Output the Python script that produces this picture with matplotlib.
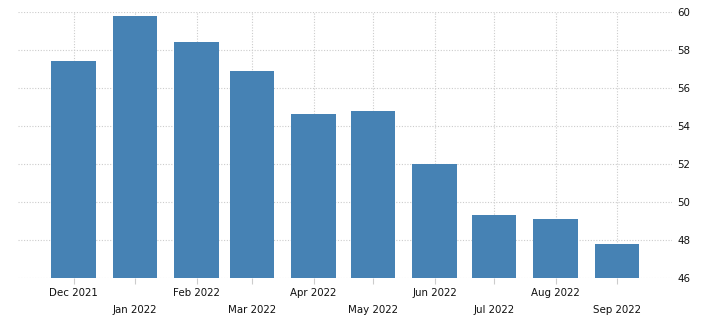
import matplotlib
matplotlib.use("Agg")
import matplotlib.pyplot as plt
import matplotlib.dates as mdates
import numpy as np
import datetime as dt

months = ["2021-12", "2022-01", "2022-02", "2022-03", "2022-04",
          "2022-05", "2022-06", "2022-07", "2022-08", "2022-09"]
labels = ["Dec 2021", "Jan 2022", "Feb 2022", "Mar 2022", "Apr 2022",
          "May 2022", "Jun 2022", "Jul 2022", "Aug 2022", "Sep 2022"]
values = [57.4, 59.8, 58.4, 56.9, 54.6, 54.8, 52.0, 49.3, 49.1, 47.8]
yticks = [46, 48, 50, 52, 54, 56, 58, 60]

dates = [dt.datetime.strptime(m + "-01", "%Y-%m-%d") for m in months]
x = mdates.date2num(dates)

fig = plt.figure(figsize=(7.07, 3.27), dpi=100)
ax = fig.add_axes([0.0255, 0.150, 0.9245, 0.814])

ax.bar(x, values, width=22.5, color="#4682B4", zorder=2)

ax.set_ylim(46, 60)
ax.set_xlim(x[0] - 28, x[-1] + 27.5)
ax.set_yticks(yticks)
ax.yaxis.tick_right()
ax.tick_params(axis="y", length=0, pad=4, labelsize=7.4, colors="#111111")
ax.set_xticks(x)
ax.set_xticklabels(labels)
ax.tick_params(axis="x", length=4, color="#cccccc", labelsize=7.4, labelcolor="#111111")
for i, t in enumerate(ax.xaxis.get_major_ticks()):
    t.set_pad(3.2 if i % 2 == 0 else 15.6)

ax.grid(True, color="#cccccc", linestyle=(0, (1, 1.5)), linewidth=0.8, zorder=0)
ax.set_axisbelow(True)
for s in ax.spines.values():
    s.set_visible(False)

fig.savefig("out.png", dpi=100)
